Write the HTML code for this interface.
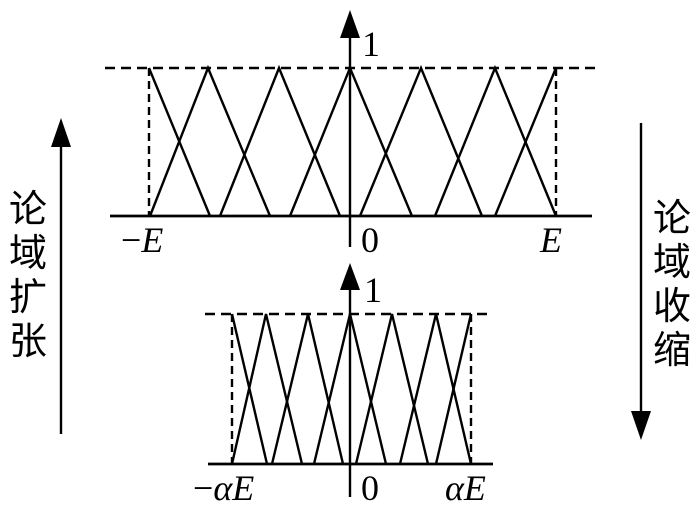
<!DOCTYPE html>
<html><head><meta charset="utf-8"><style>html,body{margin:0;padding:0;background:#fff;}svg{display:block}
.s{font-family:"Liberation Serif",serif;font-size:36px}
.c{font-family:"Liberation Sans","Noto Sans CJK SC",sans-serif;font-size:38px}
</style></head>
<body>
<svg width="700" height="512" viewBox="0 0 700 512" xmlns="http://www.w3.org/2000/svg">
<g stroke="#000" fill="none" stroke-width="2.4">
<line x1="105" y1="68" x2="595" y2="68" stroke-dasharray="10,6"/>
<line x1="149" y1="68" x2="149" y2="216" stroke-dasharray="8,5"/>
<line x1="556" y1="68" x2="556" y2="216" stroke-dasharray="8,5"/>
<line x1="110" y1="216" x2="592" y2="216" stroke-width="2.8"/>
<line x1="350" y1="30" x2="350" y2="247"/>
<polyline points="149,68 210,216"/>
<polyline points="150,216 208,68 270,216"/>
<polyline points="220,216 279,68 340,216"/>
<polyline points="290,216 350,68 412,216"/>
<polyline points="360,216 421,68 482,216"/>
<polyline points="435,216 495,68 556,216"/>
<polyline points="495,216 556,68"/>
<line x1="205" y1="314" x2="493" y2="314" stroke-dasharray="10,6"/>
<line x1="232" y1="314" x2="232" y2="464" stroke-dasharray="8,5"/>
<line x1="471" y1="314" x2="471" y2="464" stroke-dasharray="8,5"/>
<line x1="208" y1="464" x2="493" y2="464" stroke-width="2.8"/>
<line x1="350" y1="285" x2="350" y2="497"/>
<polyline points="232,314 267,464"/>
<polyline points="232,464 266,314 302,464"/>
<polyline points="272,464 308,314 343,464"/>
<polyline points="314,464 350,314 386,464"/>
<polyline points="356,464 392,314 428,464"/>
<polyline points="400,464 436,314 471,464"/>
<polyline points="436,464 471,314"/>
<line x1="61" y1="140" x2="61" y2="434"/>
<line x1="641" y1="123" x2="641" y2="415"/>
</g>
<g fill="#000">
<polygon points="350,10 340,38 360,38"/>
<polygon points="350,263 340,290 360,290"/>
<polygon points="61,118 51,147 71,147"/>
<polygon points="641,440 631,411 651,411"/>
</g>
<g class="s" fill="#000">
<text x="362" y="56">1</text>
<text x="361" y="252">0</text>
<text x="121" y="252">−<tspan font-style="italic">E</tspan></text>
<text x="540" y="252" font-style="italic">E</text>
<text x="364" y="302">1</text>
<text x="361" y="500">0</text>
<text x="193" y="500">−<tspan font-style="italic">αE</tspan></text>
<text x="445" y="500" font-style="italic">αE</text>
</g>
<g class="c" fill="#000">
<text x="9" y="222">论</text>
<text x="9" y="266">域</text>
<text x="9" y="310">扩</text>
<text x="9" y="354">张</text>
<text x="653" y="231">论</text>
<text x="653" y="275">域</text>
<text x="653" y="319">收</text>
<text x="653" y="363">缩</text>
</g>
</svg>
</body></html>
